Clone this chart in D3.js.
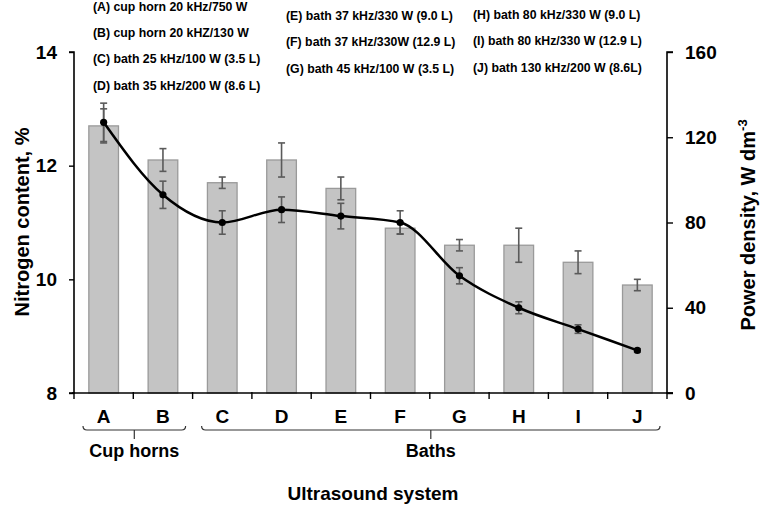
<!DOCTYPE html>
<html><head><meta charset="utf-8">
<script src="https://cdn.jsdelivr.net/npm/d3@7"></script>
<style>body{margin:0;background:#fff}svg{display:block}text{font-family:"Liberation Sans",Arial,sans-serif;font-weight:bold}</style>
</head><body>
<svg id="c" width="762" height="506"></svg>
<script>
const categories = ["A","B","C","D","E","F","G","H","I","J"];
const nitrogen = [12.7,12.1,11.7,12.1,11.6,10.9,10.6,10.6,10.3,9.9];
const nitrogenErr = [0.3,0.2,0.1,0.3,0.2,0.1,0.1,0.3,0.2,0.1];
const power = [127,93,80,86,83,80,55,40,30,20];
const powerErr = [9,6.4,5.5,6,6,5.5,3.8,2.8,2,0.8];
const leftTicks = [8,10,12,14];
const rightTicks = [0,40,80,120,160];
const legendCol1 = ["(A) cup horn 20 kHz/750 W","(B) cup horn 20 kHZ/130 W","(C) bath 25 kHz/100 W (3.5 L)","(D) bath 35 kHz/200 W (8.6 L)"];
const legendCol2 = ["(E) bath 37 kHz/330 W (9.0 L)","(F) bath 37 kHz/330W (12.9 L)","(G) bath 45 kHz/100 W (3.5 L)"];
const legendCol3 = ["(H) bath 80 kHz/330 W (9.0 L)","(I) bath 80 kHz/330 W (12.9 L)","(J) bath 130 kHz/200 W (8.6L)"];
const groups = [{name:"Cup horns", from:"A", to:"B"},{name:"Baths", from:"C", to:"J"}];

const svg = d3.select("#c");
const L = 74, R = 667, T = 52, B = 393;
const x = d3.scaleBand().domain(categories).range([L,R]).padding(0);
const yL = d3.scaleLinear().domain([8,14]).range([B,T]);
const yR = d3.scaleLinear().domain([0,160]).range([B,T]);
const bw = x.bandwidth()*0.5;
const cx = c => x(c)+x.bandwidth()/2;

// bars
svg.append("g").selectAll("rect").data(categories).join("rect")
  .attr("x", c=>cx(c)-bw/2).attr("width", bw)
  .attr("y", (c,i)=>yL(nitrogen[i])).attr("height",(c,i)=>B-yL(nitrogen[i]))
  .attr("fill","#c4c4c4").attr("stroke","#9a9a9a").attr("stroke-width",1.3);

function errBars(vals, errs, scale){
  const g = svg.append("g").attr("stroke","#5a5a5a").attr("stroke-width",1.6).attr("fill","none");
  categories.forEach((c,i)=>{
    const X = cx(c), y1 = scale(vals[i]+errs[i]), y2 = scale(vals[i]-errs[i]);
    g.append("line").attr("x1",X).attr("x2",X).attr("y1",y1).attr("y2",y2);
    g.append("line").attr("x1",X-3.5).attr("x2",X+3.5).attr("y1",y1).attr("y2",y1);
    g.append("line").attr("x1",X-3.5).attr("x2",X+3.5).attr("y1",y2).attr("y2",y2);
  });
}
errBars(nitrogen, nitrogenErr, yL);
errBars(power, powerErr, yR);

// line
const line = d3.line().x((d,i)=>cx(categories[i])).y(d=>yR(d)).curve(d3.curveMonotoneX);
svg.append("path").datum(power).attr("d",line).attr("fill","none").attr("stroke","#000").attr("stroke-width",2.5);
svg.append("g").selectAll("circle").data(power).join("circle")
  .attr("cx",(d,i)=>cx(categories[i])).attr("cy",d=>yR(d)).attr("r",3.6).attr("fill","#000");

// axes
const gl = svg.append("g").attr("transform",`translate(${L},0)`).call(d3.axisLeft(yL).tickValues(leftTicks).tickFormat(d3.format("d")).tickSize(5).tickPadding(12));
const gr = svg.append("g").attr("transform",`translate(${R},0)`).call(d3.axisRight(yR).tickValues(rightTicks).tickFormat(d3.format("d")).tickSize(6).tickPadding(12));
[gl,gr].forEach(g=>{
  g.select(".domain").attr("stroke","#000").attr("stroke-width",1.6).attr("d", g===gl?`M-5,${T}H0V${B}H-5`:`M6,${T}H0V${B}H6`);
  g.selectAll(".tick line").attr("stroke","#000").attr("stroke-width",1.4);
  g.selectAll(".tick text").attr("font-size",19).attr("fill","#000").attr("font-family","Liberation Sans, Arial, sans-serif").attr("font-weight","bold");
});
// x axis
const gx = svg.append("g").attr("transform",`translate(0,${B})`);
gx.append("line").attr("x1",L-2).attr("x2",R+6).attr("stroke","#000").attr("stroke-width",1.6);
const bounds = categories.map(c=>x(c)).concat([R]);
gx.selectAll("line.t").data(bounds).join("line").attr("class","t")
  .attr("x1",d=>d).attr("x2",d=>d).attr("y1",-1).attr("y2",6).attr("stroke","#000").attr("stroke-width",1.4);
gx.selectAll("text").data(categories).join("text")
  .attr("x",c=>cx(c)).attr("y",30).attr("text-anchor","middle").attr("font-size",19).text(c=>c);

// group brackets
const bg = svg.append("g").attr("stroke","#333").attr("stroke-width",1.2).attr("fill","none");
groups.forEach(g=>{
  const x1 = x(g.from)+9, x2 = x(g.to)+x.bandwidth()-7, m=(x1+x2)/2, y=430;
  bg.append("path").attr("d",`M${x1},${y-4}Q${x1},${y} ${x1+4},${y}H${x2-4}Q${x2},${y} ${x2},${y-4}M${m},${y}V${y+9}`);
  svg.append("text").attr("x",m).attr("y",457).attr("text-anchor","middle").attr("font-size",18).text(g.name);
});

// titles
svg.append("text").attr("x",373).attr("y",500).attr("text-anchor","middle").attr("font-size",19).text("Ultrasound system");
svg.append("text").attr("transform","translate(29,222) rotate(-90)").attr("text-anchor","middle").attr("font-size",20).text("Nitrogen content, %");
const rt = svg.append("text").attr("transform","translate(755,225) rotate(-90)").attr("text-anchor","middle").attr("font-size",20);
rt.append("tspan").text("Power density,  W dm");
rt.append("tspan").attr("dy",-8).attr("font-size",13).text("-3");

// legend texts
const lg = svg.append("g").attr("font-size",12.3);
legendCol1.forEach((t,i)=>lg.append("text").attr("x",93).attr("y",11+i*26.2).text(t));
legendCol2.forEach((t,i)=>lg.append("text").attr("x",286).attr("y",19.5+i*26.5).text(t));
legendCol3.forEach((t,i)=>lg.append("text").attr("x",473).attr("y",18.5+i*26.5).text(t));
</script>
</body></html>
